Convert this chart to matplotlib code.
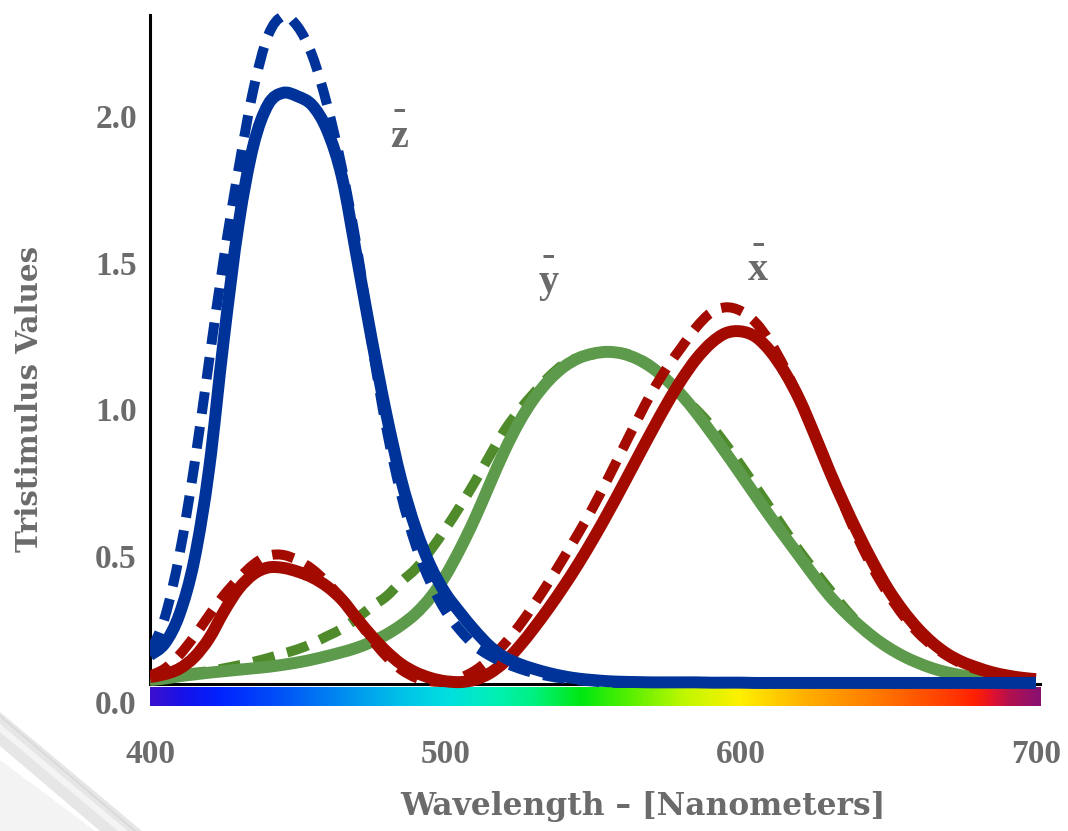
import numpy as np
import matplotlib
matplotlib.use("Agg")
import matplotlib.pyplot as plt
from matplotlib.colors import LinearSegmentedColormap
from matplotlib.patches import Polygon, PathPatch
from matplotlib.path import Path
from matplotlib.lines import Line2D

# ---------------- data (chart units) ----------------
wavelength = np.arange(400, 701, 5)

# solid curves
x_bar_solid = [0.085, 0.095, 0.114, 0.153, 0.217, 0.308, 0.386, 0.436, 0.459, 0.458,
               0.445, 0.425, 0.394, 0.349, 0.286, 0.226, 0.173, 0.130, 0.101, 0.082,
               0.071, 0.068, 0.076, 0.098, 0.136, 0.189, 0.252, 0.320, 0.393, 0.471,
               0.555, 0.644, 0.737, 0.832, 0.926, 1.017, 1.100, 1.171, 1.225, 1.259,
               1.265, 1.247, 1.198, 1.125, 1.031, 0.914, 0.791, 0.677, 0.571, 0.473,
               0.385, 0.312, 0.251, 0.202, 0.164, 0.137, 0.118, 0.102, 0.091, 0.083,
               0.078]
y_bar_solid = [0.075, 0.080, 0.088, 0.094, 0.100, 0.105, 0.110, 0.115, 0.120, 0.127,
               0.135, 0.145, 0.157, 0.170, 0.185, 0.205, 0.230, 0.262, 0.302, 0.357,
               0.430, 0.522, 0.626, 0.742, 0.856, 0.955, 1.035, 1.097, 1.143, 1.173,
               1.189, 1.195, 1.189, 1.171, 1.141, 1.099, 1.048, 0.987, 0.920, 0.850,
               0.778, 0.705, 0.633, 0.564, 0.496, 0.428, 0.364, 0.310, 0.263, 0.221,
               0.186, 0.157, 0.134, 0.115, 0.101, 0.091, 0.084, 0.078, 0.074, 0.071,
               0.070]
z_bar_solid = [0.160, 0.200, 0.300, 0.485, 0.795, 1.239, 1.631, 1.899, 2.039, 2.079,
               2.067, 2.036, 1.951, 1.792, 1.520, 1.242, 0.984, 0.761, 0.591, 0.464,
               0.372, 0.305, 0.244, 0.191, 0.153, 0.130, 0.113, 0.099, 0.088, 0.080,
               0.075, 0.071, 0.069, 0.068, 0.067, 0.067, 0.067, 0.067, 0.066, 0.066,
               0.066, 0.065, 0.065, 0.065, 0.065, 0.065, 0.065, 0.065, 0.065, 0.065,
               0.065, 0.065, 0.065, 0.065, 0.065, 0.065, 0.065, 0.065, 0.065, 0.065,
               0.065]

# dashed curves
x_bar_dashed = [0.090, 0.114, 0.161, 0.224, 0.296, 0.364, 0.421, 0.469, 0.499, 0.502,
                0.484, 0.453, 0.407, 0.352, 0.286, 0.215, 0.156, 0.111, 0.083, 0.071,
                0.069, 0.082, 0.107, 0.146, 0.198, 0.260, 0.332, 0.409, 0.491, 0.575,
                0.664, 0.761, 0.862, 0.962, 1.058, 1.140, 1.211, 1.279, 1.329, 1.347,
                1.335, 1.296, 1.229, 1.139, 1.033, 0.918, 0.797, 0.670, 0.553, 0.453,
                0.368, 0.296, 0.237, 0.192, 0.157, 0.130, 0.111, 0.097, 0.088, 0.081,
                0.076]
y_bar_dashed = [0.075, 0.080, 0.090, 0.100, 0.105, 0.115, 0.125, 0.137, 0.150, 0.165,
                0.180, 0.200, 0.225, 0.250, 0.285, 0.325, 0.360, 0.410, 0.455, 0.518,
                0.590, 0.668, 0.751, 0.840, 0.926, 0.995, 1.054, 1.109, 1.152, 1.175,
                1.186, 1.194, 1.192, 1.175, 1.145, 1.099, 1.047, 0.998, 0.943, 0.879,
                0.809, 0.736, 0.662, 0.587, 0.515, 0.449, 0.385, 0.323, 0.268, 0.223,
                0.187, 0.157, 0.133, 0.115, 0.101, 0.091, 0.083, 0.078, 0.074, 0.071,
                0.069]
z_bar_dashed = [0.170, 0.288, 0.505, 0.807, 1.164, 1.514, 1.820, 2.090, 2.275, 2.340,
                2.305, 2.205, 2.037, 1.822, 1.554, 1.229, 0.937, 0.709, 0.534, 0.407,
                0.312, 0.245, 0.192, 0.158, 0.134, 0.114, 0.099, 0.088, 0.080, 0.074,
                0.070, 0.066, 0.065, 0.065, 0.065, 0.065, 0.065, 0.065, 0.065, 0.065,
                0.065, 0.065, 0.065, 0.065, 0.065, 0.065, 0.065, 0.065, 0.065, 0.065,
                0.065, 0.065, 0.065, 0.065, 0.065, 0.065, 0.065, 0.065, 0.065, 0.065,
                0.065]

# rainbow strip along the wavelength axis
spectrum_nm = [400, 411, 423, 443, 466, 484, 501, 518, 530, 546, 564, 581,
               600, 622, 646, 669, 680, 686, 692, 701.5]
spectrum_colors = ['#3a10d0', '#1512ea', '#0022ff', '#0050f8', '#0090f0', '#00c0e8',
                   '#00e0e0', '#00f0b0', '#00f080', '#00e810', '#60f000', '#c0f800',
                   '#fff000', '#ffb000', '#ff7a00', '#ff4000', '#ff2000', '#e01030',
                   '#b01050', '#8a1070']

x_ticks = [400, 500, 600, 700]
y_ticks = [0.0, 0.5, 1.0, 1.5, 2.0]
curve_names = ['z', 'y', 'x']

# ---------------- styling / layout ----------------
TEXT = '#6b6b6b'
BLUE = '#003399'
RED = '#a30a00'
GREEN = '#5e9a4b'
GREEN_D = '#4f8b2b'
TICK_FONT = dict(family='Liberation Serif', weight='bold', size=24, color=TEXT)

W, H = 1068, 831
PX_X0, PX_PER_NM = 150.0, 2.953      # pixel of 400 nm, pixels per nm
PX_Y0, PX_PER_UNIT = 702.0, 293.0    # pixel of value 0, pixels per unit
xlim = (400, 710)
ylim = (-0.1, 2.395)

def px_x(v):
    return PX_X0 + (v - 400) * PX_PER_NM

def px_y(v):
    return PX_Y0 - v * PX_PER_UNIT

left, right = px_x(xlim[0]), px_x(xlim[1])
top, bottom = px_y(ylim[1]), px_y(ylim[0])

fig = plt.figure(figsize=(W / 100, H / 100), dpi=100)
fig.patch.set_facecolor('white')

# decorative grey swoosh in the lower-left corner (figure pixels)
def fpoly(pts, color, z=0):
    p = Polygon([(x / W, 1 - y / H) for x, y in pts], closed=True,
                transform=fig.transFigure, facecolor=color, edgecolor='none', zorder=z)
    fig.add_artist(p)

fpoly([(0, 760), (0, 831), (95, 831)], '#f3f3f3')
fpoly([(0, 712), (0, 746), (100, 831), (142, 831)], '#e6e6e6')
fpoly([(0, 724), (0, 732), (118, 831), (128, 831)], '#f4f4f4')
fig.add_artist(Line2D([0 / W, 135 / W], [1 - 716 / H, 1 - 831 / H],
                      transform=fig.transFigure, color='#d8d8d8', lw=1.2))

ax = fig.add_axes([left / W, 1 - bottom / H, (right - left) / W, (bottom - top) / H])
ax.set_facecolor('none')
ax.set_xlim(*xlim)
ax.set_ylim(*ylim)

# spectrum strip
cmap = LinearSegmentedColormap.from_list(
    'spectrum',
    [((n - spectrum_nm[0]) / (spectrum_nm[-1] - spectrum_nm[0]), c)
     for n, c in zip(spectrum_nm, spectrum_colors)])
grad = np.linspace(spectrum_nm[0], spectrum_nm[-1], 800).reshape(1, -1)
ax.imshow(grad, cmap=cmap, aspect='auto', interpolation='bilinear',
          extent=[spectrum_nm[0], spectrum_nm[-1], -0.014, 0.048], zorder=0.5)


def smooth_curve(xs, ys, **kw):
    """Smoothed line through the data points (Catmull-Rom as cubic Bezier),
    like the 'smoothed line' option of the original chart."""
    pts = np.column_stack([np.asarray(xs, float), np.asarray(ys, float)])
    n = len(pts)
    verts = [pts[0]]
    codes = [Path.MOVETO]
    for i in range(n - 1):
        p0 = pts[i - 1] if i > 0 else pts[i]
        p1, p2 = pts[i], pts[i + 1]
        p3 = pts[i + 2] if i + 2 < n else pts[i + 1]
        verts += [p1 + (p2 - p0) / 6.0, p2 - (p3 - p1) / 6.0, p2]
        codes += [Path.CURVE4] * 3
    patch = PathPatch(Path(verts, codes), facecolor='none', transform=ax.transData,
                      joinstyle='round', capstyle='butt', **kw)
    ax.add_patch(patch)
    return patch


dash = (0, (2.2, 1.3))
smooth_curve(wavelength, y_bar_dashed, edgecolor=GREEN_D, lw=7.2, linestyle=dash, zorder=2.0)
smooth_curve(wavelength, y_bar_solid, edgecolor=GREEN, lw=8.6, zorder=2.1)
smooth_curve(wavelength, x_bar_dashed, edgecolor=RED, lw=7.2, linestyle=dash, zorder=2.2)
smooth_curve(wavelength, x_bar_solid, edgecolor=RED, lw=8.6, zorder=2.3)
smooth_curve(wavelength, z_bar_dashed, edgecolor=BLUE, lw=7.2, linestyle=dash, zorder=2.4)
smooth_curve(wavelength, z_bar_solid, edgecolor=BLUE, lw=8.6, zorder=2.5)

# axis lines
for s in ('top', 'right'):
    ax.spines[s].set_visible(False)
ax.spines['bottom'].set_position(('data', 0.06))
ax.spines['bottom'].set_bounds(400, 701.5)
ax.spines['left'].set_bounds(0.06, 2.345)
for s in ('bottom', 'left'):
    ax.spines[s].set_linewidth(2.2)
    ax.spines[s].set_color('black')
    ax.spines[s].set_zorder(1)

ax.set_xticks(x_ticks)
ax.set_xticklabels([str(t) for t in x_ticks])
ax.set_yticks(y_ticks)
ax.set_yticklabels(['%.1f' % t for t in y_ticks])
ax.tick_params(axis='x', length=0, pad=39)
ax.tick_params(axis='y', length=0, pad=9.5)
for lab in ax.get_xticklabels() + ax.get_yticklabels():
    lab.set(**TICK_FONT)

ax.set_xlabel('Wavelength – [Nanometers]', family='DejaVu Serif', weight='bold',
              size=22.5, color=TEXT)
ax.set_ylabel('Tristimulus Values', family='DejaVu Serif', weight='bold',
              size=21.2, color=TEXT)
ax.xaxis.label.set_va('center')
ax.yaxis.label.set_va('center')
aw, ah = right - left, bottom - top
ax.xaxis.set_label_coords((642.5 - left) / aw, (bottom - 806) / ah)
ax.yaxis.set_label_coords((30 - left) / aw, (bottom - 399) / ah)

# curve names: letter with a short bar above it (one text each)
name_pos = {'z': (484.3, 1.894), 'y': (535.0, 1.399), 'x': (606.0, 1.440)}
for n in curve_names:
    cx, base = name_pos[n]
    ax.text(cx, base - 0.030, '-\n' + n, ha='center', va='bottom', ma='center',
            linespacing=0.62, family='Liberation Serif', weight='bold', size=29,
            color=TEXT)

fig.savefig('out.png', dpi=100)
